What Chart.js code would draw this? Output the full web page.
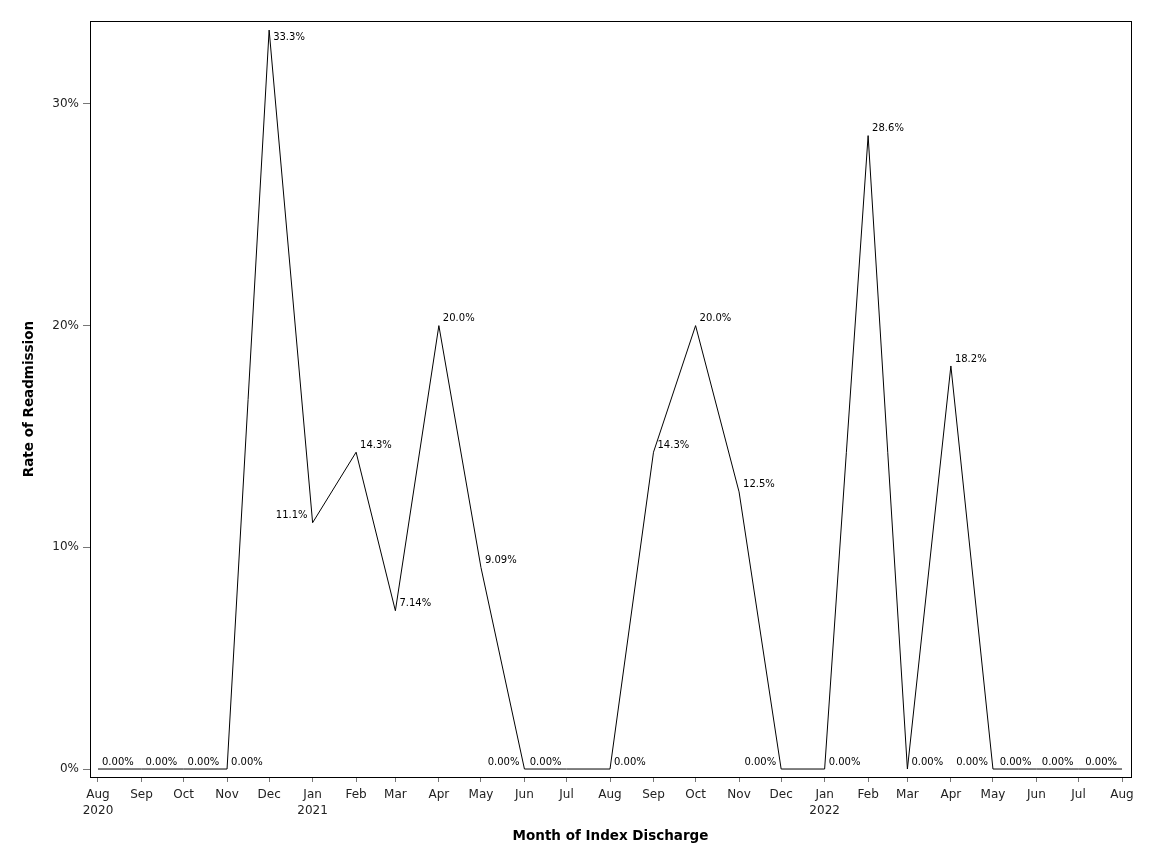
<!DOCTYPE html>
<html>
<head>
<meta charset="utf-8">
<title>Rate of Readmission</title>
<script src="https://cdn.jsdelivr.net/npm/chart.js@4.4.1/dist/chart.umd.min.js"></script>
<style>
  html, body { margin: 0; padding: 0; background: #fff; }
  #wrap { width: 1152px; height: 864px; position: relative; }
</style>
</head>
<body>
<div id="wrap"><canvas id="chart"></canvas></div>
<script>
// months of index discharge
const months = [
  "2020-08", "2020-09", "2020-10", "2020-11", "2020-12",
  "2021-01", "2021-02", "2021-03", "2021-04", "2021-05", "2021-06",
  "2021-07", "2021-08", "2021-09", "2021-10", "2021-11", "2021-12",
  "2022-01", "2022-02", "2022-03", "2022-04", "2022-05", "2022-06",
  "2022-07", "2022-08",
];

const tickLabels = [
  ["Aug", "2020"], "Sep", "Oct", "Nov", "Dec",
  ["Jan", "2021"], "Feb", "Mar", "Apr", "May", "Jun",
  "Jul", "Aug", "Sep", "Oct", "Nov", "Dec",
  ["Jan", "2022"], "Feb", "Mar", "Apr", "May", "Jun",
  "Jul", "Aug",
];

// readmission rate (%)
const rates = [
  0, 0, 0, 0, 33.33,
  11.11, 14.29, 7.14, 20.0, 9.09, 0,
  0, 0, 14.29, 20.0, 12.5, 0,
  0, 28.57, 0, 18.18, 0, 0,
  0, 0,
];

const yTicks = [0, 10, 20, 30];

// where each point label sits: r/l = right/left of point, "b" = below
const labelPlace = [
  "r", "r", "r", "r", "rb",
  "l", "r", "r", "r", "r", "l",
  "l", "r", "r", "r", "r", "l",
  "r", "r", "r", "r", "l", "l",
  "l", "l",
];

// days since first month, so the axis spacing follows the calendar
const start = Date.UTC(2020, 7, 1);
const dayOf = (m) => {
  const [y, mo] = m.split("-").map(Number);
  return (Date.UTC(y, mo - 1, 1) - start) / 86400000;
};
const xDays = months.map(dayOf);

Chart.defaults.font.family = "'DejaVu Sans', sans-serif";
Chart.defaults.color = "#222";

const boxPlugin = {
  id: "box",
  afterDraw(chart) {
    const { ctx, chartArea: a } = chart;
    ctx.save();
    ctx.strokeStyle = "#000";
    ctx.lineWidth = 1;
    ctx.strokeRect(Math.round(a.left) + 0.5, Math.round(a.top) + 0.5,
      Math.round(a.right - a.left), Math.round(a.bottom - a.top));
    ctx.restore();
  },
};

const pointLabels = {
  id: "pointLabels",
  afterDatasetsDraw(chart) {
    const { ctx } = chart;
    const meta = chart.getDatasetMeta(0);
    ctx.save();
    ctx.font = "10px 'DejaVu Sans'";
    ctx.fillStyle = "#000";
    ctx.textBaseline = "middle";
    meta.data.forEach((pt, i) => {
      const place = labelPlace[i];
      const left = place.startsWith("l");
      ctx.textAlign = left ? "right" : "left";
      const x = left ? pt.x - 5 : pt.x + 4;
      const y = place.includes("b") ? pt.y + 7.5 : pt.y - 7;
      ctx.fillText(rates[i].toPrecision(3) + "%", x, y);
    });
    ctx.restore();
  },
};

new Chart(document.getElementById("chart"), {
  type: "line",
  data: {
    datasets: [
      {
        data: xDays.map((x, i) => ({ x: x, y: rates[i] })),
        borderColor: "#000",
        borderWidth: 1,
        pointRadius: 0,
        tension: 0,
        fill: false,
      },
    ],
  },
  options: {
    responsive: true,
    maintainAspectRatio: false,
    animation: false,
    layout: { padding: { top: 21, right: 21, left: 0, bottom: 0 } },
    plugins: {
      legend: { display: false },
      tooltip: { enabled: false },
    },
    scales: {
      x: {
        type: "linear",
        min: -5.7,
        max: 736.4,
        afterBuildTicks: (s) => {
          s.ticks = xDays.map((v) => ({ value: v }));
        },
        afterFit: (s) => {
          s.height = 87;
        },
        ticks: {
          autoSkip: false,
          maxRotation: 0,
          padding: 5,
          font: { size: 12, lineHeight: 1.33 },
          color: "#222",
          callback: (v) => {
            const i = xDays.indexOf(v);
            return i >= 0 ? tickLabels[i] : "";
          },
        },
        grid: { drawOnChartArea: false, tickLength: 5, color: "#777" },
        border: { display: true, color: "#000", width: 1 },
        title: {
          display: true,
          text: "Month of Index Discharge",
          font: { size: 13.5, weight: "bold" },
          color: "#000",
          padding: { top: 0, bottom: 19 },
        },
      },
      y: {
        min: -0.36,
        max: 33.74,
        afterBuildTicks: (s) => {
          s.ticks = yTicks.map((v) => ({ value: v }));
        },
        afterFit: (s) => {
          s.width = 90;
        },
        ticks: {
          padding: 4,
          font: { size: 12 },
          color: "#222",
          callback: (v) => v + "%",
        },
        grid: { drawOnChartArea: false, tickLength: 7, color: "#777" },
        border: { display: true, color: "#000", width: 1 },
        title: {
          display: true,
          text: "Rate of Readmission",
          font: { size: 13.5, weight: "bold" },
          color: "#000",
          padding: { top: 21, bottom: 0 },
        },
      },
    },
  },
  plugins: [boxPlugin, pointLabels],
});
</script>
</body>
</html>
